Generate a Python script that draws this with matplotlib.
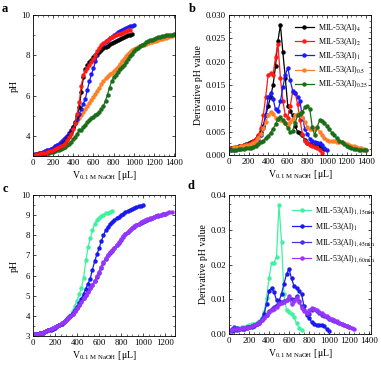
import matplotlib
matplotlib.use("Agg")
import matplotlib.pyplot as plt
from matplotlib.ticker import MultipleLocator, AutoMinorLocator

plt.rcParams['font.family'] = ['Liberation Serif', 'DejaVu Serif']
plt.rcParams['mathtext.fontset'] = 'stix'

# titration volumes (uL): pH read every 20 uL, derivative every 25 uL
VOL = list(range(0, 1401, 20))
DVOL = list(range(0, 1426, 25))

# ---- panel a: pH curves ----
ph_al4 = [3.05, 3.07, 3.09, 3.11, 3.13, 3.15, 3.17, 3.2, 3.23, 3.26, 3.3, 3.34, 3.39, 3.45, 3.52,
          3.6, 3.7, 3.83, 4.0, 4.2, 4.45, 4.7, 5.0, 5.45, 6.2, 6.9, 7.3, 7.5, 7.65, 7.78, 7.9, 8.0,
          8.1, 8.18, 8.27, 8.35, 8.42, 8.48, 8.54, 8.6, 8.65, 8.7, 8.75, 8.8, 8.85, 8.9, 8.95, 8.99,
          9.03, 9.06]
ph_al2 = [3.05, 3.07, 3.09, 3.11, 3.13, 3.15, 3.17, 3.2, 3.23, 3.26, 3.3, 3.34, 3.38, 3.43, 3.5,
          3.57, 3.66, 3.78, 3.92, 4.1, 4.35, 4.65, 5.1, 5.7, 6.5, 7.0, 7.2, 7.35, 7.5, 7.65, 7.8,
          8.0, 8.2, 8.35, 8.5, 8.6, 8.7, 8.78, 8.85, 8.9, 8.95, 9.0, 9.04, 9.08, 9.12, 9.16, 9.2,
          9.24, 9.28]
ph_al1 = [3.05, 3.08, 3.1, 3.13, 3.16, 3.2, 3.24, 3.28, 3.32, 3.37, 3.42, 3.48, 3.54, 3.61, 3.69,
          3.78, 3.88, 4.0, 4.13, 4.28, 4.45, 4.65, 4.85, 5.1, 5.35, 5.6, 5.85, 6.3, 6.7, 7.05, 7.35,
          7.7, 8.0, 8.25, 8.42, 8.57, 8.68, 8.76, 8.85, 8.93, 9.0, 9.08, 9.15, 9.21, 9.27, 9.32,
          9.36, 9.4, 9.44, 9.47, 9.5]
ph_al05 = [3.05, 3.08, 3.11, 3.14, 3.17, 3.2, 3.24, 3.28, 3.32, 3.37, 3.42, 3.48, 3.54, 3.61, 3.69,
           3.78, 3.88, 3.99, 4.12, 4.27, 4.42, 4.58, 4.74, 4.9, 5.05, 5.2, 5.33, 5.47, 5.62, 5.78,
           5.94, 6.1, 6.25, 6.4, 6.55, 6.7, 6.85, 6.98, 7.08, 7.13, 7.2, 7.3, 7.42, 7.56, 7.7, 7.84,
           7.97, 8.08, 8.17, 8.25, 8.31, 8.36, 8.41, 8.45, 8.49, 8.53, 8.57, 8.6, 8.64, 8.67, 8.7,
           8.73, 8.76, 8.79, 8.82, 8.85, 8.88, 8.91, 8.94, 8.97, 9.0]
ph_al025 = [3.03, 3.05, 3.07, 3.09, 3.11, 3.13, 3.16, 3.19, 3.22, 3.25, 3.28, 3.32, 3.36, 3.41,
            3.47, 3.54, 3.62, 3.71, 3.82, 3.95, 4.1, 4.27, 4.3, 4.42, 4.55, 4.68, 4.78, 4.87, 4.95,
            5.03, 5.1, 5.2, 5.32, 5.5, 5.75, 6.05, 6.4, 6.7, 6.9, 7.02, 7.15, 7.3, 7.4, 7.5, 7.65,
            7.8, 7.95, 8.08, 8.2, 8.3, 8.38, 8.45, 8.52, 8.58, 8.64, 8.69, 8.74, 8.78, 8.82, 8.86,
            8.89, 8.92, 8.95, 8.97, 8.99, 9.0, 9.02, 9.03, 9.04]

# ---- panel b: derivative curves ----
d_al4 = [0.0015, 0.0016, 0.0017, 0.0019, 0.002, 0.0021, 0.0023, 0.0025, 0.0027, 0.003, 0.0034,
         0.004, 0.005, 0.0063, 0.0085, 0.0105, 0.0125, 0.015, 0.019, 0.0245, 0.0279, 0.022,
         0.0165, 0.0105, 0.0095, 0.0085, 0.0062, 0.005, 0.0047, 0.0042, 0.0032, 0.0025, 0.0023,
         0.0022, 0.002, 0.0025, 0.002, 0.0015, 0.0012]
d_al2 = [0.0015, 0.0016, 0.0017, 0.0018, 0.002, 0.0021, 0.0022, 0.0024, 0.0026, 0.0029, 0.0034,
         0.0042, 0.0058, 0.0085, 0.0125, 0.0172, 0.0175, 0.0172, 0.021, 0.0238, 0.0165, 0.0115,
         0.0085, 0.008, 0.0105, 0.0135, 0.0133, 0.011, 0.0075, 0.0045, 0.003, 0.0025, 0.0022,
         0.002, 0.0018, 0.0015, 0.001, 0.0005]
d_al1 = [0.001, 0.0011, 0.0012, 0.0013, 0.0014, 0.0015, 0.0017, 0.0019, 0.0021, 0.0024, 0.0028,
         0.0033, 0.0042, 0.0058, 0.0085, 0.0125, 0.0132, 0.012, 0.0098, 0.0095, 0.0115, 0.0145,
         0.0172, 0.0187, 0.016, 0.0138, 0.0133, 0.0125, 0.0115, 0.008, 0.0055, 0.0045, 0.0035,
         0.003, 0.0027, 0.0026, 0.0026, 0.0022, 0.0015, 0.001]
d_al05 = [0.0018, 0.0017, 0.0018, 0.0019, 0.002, 0.0021, 0.0022, 0.0024, 0.0026, 0.003, 0.0036,
          0.0045, 0.0057, 0.007, 0.0085, 0.0093, 0.0088, 0.008, 0.0078, 0.0075, 0.0072, 0.0068,
          0.0065, 0.007, 0.0077, 0.0085, 0.0088, 0.009, 0.0082, 0.007, 0.006, 0.0055, 0.0055,
          0.0056, 0.0058, 0.005, 0.0043, 0.0037, 0.0033, 0.003, 0.0029, 0.0029, 0.0028, 0.0028,
          0.0027, 0.0026, 0.0024, 0.0022, 0.002, 0.0019, 0.0018, 0.0016, 0.0014, 0.0012, 0.001]
d_al025 = [0.001, 0.001, 0.0011, 0.0012, 0.0013, 0.0013, 0.0014, 0.0015, 0.0016, 0.0018, 0.002,
           0.0023, 0.0027, 0.0031, 0.0036, 0.0041, 0.0048, 0.0056, 0.0066, 0.0078, 0.0081,
           0.0076, 0.0068, 0.0057, 0.0049, 0.0052, 0.0068, 0.0085, 0.0088, 0.0093, 0.0102,
           0.0105, 0.0098, 0.006, 0.0042, 0.006, 0.0074, 0.0072, 0.0068, 0.0062, 0.0055, 0.0048,
           0.0042, 0.0036, 0.0031, 0.0027, 0.0023, 0.002, 0.0017, 0.0015, 0.0013, 0.0012, 0.0011,
           0.001, 0.0011, 0.001]

# ---- panel c: pH curves, crystallisation time series ----
ph_15min = [3.05, 3.08, 3.1, 3.13, 3.16, 3.2, 3.24, 3.28, 3.32, 3.37, 3.42, 3.48, 3.55, 3.62, 3.7,
            3.8, 3.92, 4.06, 4.24, 4.5, 4.75, 5.1, 5.38, 5.9, 6.75, 7.4, 7.85, 8.25, 8.55, 8.75,
            8.88, 8.97, 9.03, 9.09, 9.13, 9.18, 9.22]
ph_45min = [3.05, 3.08, 3.11, 3.14, 3.17, 3.21, 3.25, 3.3, 3.35, 3.4, 3.45, 3.51, 3.57, 3.63, 3.7,
            3.78, 3.87, 3.97, 4.1, 4.24, 4.4, 4.56, 4.73, 4.9, 5.06, 5.22, 5.38, 5.55, 5.73, 5.93,
            6.15, 6.38, 6.6, 6.82, 7.0, 7.13, 7.24, 7.36, 7.5, 7.64, 7.78, 7.92, 8.04, 8.15, 8.25,
            8.34, 8.42, 8.49, 8.56, 8.62, 8.67, 8.72, 8.77, 8.82, 8.86, 8.9, 8.94, 8.98, 9.01,
            9.04, 9.07]
ph_60min = [3.05, 3.08, 3.11, 3.14, 3.17, 3.21, 3.25, 3.3, 3.35, 3.4, 3.45, 3.51, 3.57, 3.63, 3.7,
            3.78, 3.87, 3.97, 4.09, 4.22, 4.37, 4.53, 4.7, 4.87, 5.03, 5.2, 5.37, 5.55, 5.75, 5.97,
            6.2, 6.45, 6.67, 6.87, 7.03, 7.15, 7.25, 7.37, 7.5, 7.65, 7.8, 7.95, 8.07, 8.18, 8.28,
            8.37, 8.45, 8.52, 8.58, 8.64, 8.69, 8.74, 8.79, 8.84, 8.88, 8.92, 8.96, 8.99, 9.02,
            9.05, 9.08, 9.11, 9.14, 9.17]

# ---- panel d: derivative curves, crystallisation time series ----
d_15min = [0.001, 0.0012, 0.0015, 0.0016, 0.0017, 0.0019, 0.002, 0.0022, 0.0025, 0.0028, 0.003,
           0.0033, 0.0036, 0.0045, 0.0062, 0.0103, 0.016, 0.0203, 0.0205, 0.0222, 0.0371, 0.0266,
           0.0115, 0.0068, 0.0064, 0.0058, 0.0048, 0.0031, 0.0018, 0.0012]
d_45min = [0.001, 0.0015, 0.002, 0.0017, 0.0015, 0.0016, 0.0017, 0.0019, 0.002, 0.0023, 0.0026,
           0.003, 0.0034, 0.004, 0.0048, 0.0056, 0.0065, 0.0072, 0.0078, 0.0083, 0.0088, 0.0092,
           0.0095, 0.0098, 0.0105, 0.01, 0.0098, 0.011, 0.0095, 0.008, 0.0068, 0.006, 0.0058,
           0.0068, 0.0072, 0.0065, 0.006, 0.0056, 0.0052, 0.0048, 0.0044, 0.004, 0.0037, 0.0034,
           0.0031, 0.0028, 0.0025, 0.0022, 0.002]
d_60min = [0.001, 0.0012, 0.0013, 0.0014, 0.0015, 0.0016, 0.0017, 0.0018, 0.002, 0.0022, 0.0025,
           0.0029, 0.0033, 0.0039, 0.0046, 0.0055, 0.0064, 0.007, 0.0072, 0.0078, 0.0085, 0.009,
           0.0092, 0.0098, 0.0108, 0.0085, 0.0095, 0.0105, 0.0092, 0.0075, 0.0065, 0.006, 0.0068,
           0.0074, 0.0073, 0.0069, 0.0064, 0.006, 0.0055, 0.0051, 0.0047, 0.0043, 0.004, 0.0036,
           0.0033, 0.003, 0.0027, 0.0024, 0.0021, 0.0018, 0.0015]

labels_ab = [r'MIL-53(Al)$_{4}$', r'MIL-53(Al)$_{2}$', r'MIL-53(Al)$_{1}$',
             r'MIL-53(Al)$_{0.5}$', r'MIL-53(Al)$_{0.25}$']
colors_ab = ['#000000', '#ff1a1a', '#1a1aff', '#ff7f27', '#1a6e1a']
labels_cd = [r'MIL-53(Al)$_{1,15\mathrm{min}}$', r'MIL-53(Al)$_{1}$',
             r'MIL-53(Al)$_{1,45\mathrm{min}}$', r'MIL-53(Al)$_{1,60\mathrm{min}}$']
colors_cd = ['#3ff2a2', '#1a1aee', '#4a30e0', '#9933ff']

XLABEL = r'V$_{\mathregular{0.1\ M\ NaOH}}$ [$\mathregular{\mu}$L]'
FS = 6.3
LFS = 7


def draw(ax, x, y, color, label=None):
    ax.plot(x[:len(y)], y, '-o', color=color, lw=0.9, ms=3.2, mew=0, label=label)


def style(ax, xmax, ymin, ymax, ymaj, xlabel_pad=1.5):
    ax.set_xlim(0, xmax)
    ax.set_ylim(ymin, ymax)
    ax.xaxis.set_major_locator(MultipleLocator(200))
    ax.xaxis.set_minor_locator(AutoMinorLocator(4))
    ax.yaxis.set_major_locator(MultipleLocator(ymaj))
    ax.yaxis.set_minor_locator(AutoMinorLocator(4))
    ax.tick_params(which='both', direction='in', top=True, right=True, labelsize=FS, pad=2)
    ax.tick_params(which='major', length=2.5, width=0.5)
    ax.tick_params(which='minor', length=1.3, width=0.4)
    for sp in ax.spines.values():
        sp.set_linewidth(0.6)
    ax.set_xlabel(XLABEL, fontsize=LFS, labelpad=xlabel_pad)


fig = plt.figure(figsize=(3.81, 3.65), dpi=100)
W, H = 381.0, 365.0


def add_axes(l, r, t, b):
    return fig.add_axes([l / W, 1 - b / H, (r - l) / W, (b - t) / H])


ax_a = add_axes(33, 175, 15, 156)
ax_b = add_axes(229, 371, 15, 155)
ax_c = add_axes(33, 175, 195, 336)
ax_d = add_axes(229, 371, 195, 334)

# a
draw(ax_a, VOL, ph_al05, colors_ab[3])
draw(ax_a, VOL[2:], ph_al025, colors_ab[4])
draw(ax_a, VOL, ph_al1, colors_ab[2])
draw(ax_a, VOL, ph_al4, colors_ab[0])
draw(ax_a, VOL, ph_al2, colors_ab[1])
style(ax_a, 1410, 3, 10, 2)
ax_a.yaxis.set_minor_locator(AutoMinorLocator(2))
ax_a.set_ylabel('pH', fontsize=LFS, labelpad=2)

# b
draw(ax_b, DVOL[1:], d_al4, colors_ab[0], labels_ab[0])
draw(ax_b, DVOL[1:], d_al2, colors_ab[1], labels_ab[1])
draw(ax_b, DVOL[1:], d_al1, colors_ab[2], labels_ab[2])
draw(ax_b, DVOL[2:], d_al05, colors_ab[3], labels_ab[3])
draw(ax_b, DVOL[1:], d_al025, colors_ab[4], labels_ab[4])
style(ax_b, 1450, 0, 0.03, 0.005)
ax_b.yaxis.set_major_formatter(plt.FormatStrFormatter('%.3f'))
ax_b.set_ylabel('Derivative pH value', fontsize=LFS, labelpad=2)
ax_b.legend(loc='upper left', bbox_to_anchor=(0.44, 0.97), frameon=False, fontsize=5.8,
            handlelength=2.4, handletextpad=0.5, labelspacing=0.3, borderaxespad=0)

# c
draw(ax_c, VOL, ph_15min, colors_cd[0])
draw(ax_c, VOL, ph_45min, colors_cd[2])
draw(ax_c, VOL, ph_al1, colors_cd[1])
draw(ax_c, VOL, ph_60min, colors_cd[3])
style(ax_c, 1290, 3, 10, 1)
ax_c.yaxis.set_minor_locator(AutoMinorLocator(2))
ax_c.set_ylabel('pH', fontsize=LFS, labelpad=2)

# d
draw(ax_d, DVOL, d_15min, colors_cd[0], labels_cd[0])
draw(ax_d, DVOL[1:], d_al1, colors_cd[1], labels_cd[1])
draw(ax_d, DVOL, d_45min, colors_cd[2], labels_cd[2])
draw(ax_d, DVOL, d_60min, colors_cd[3], labels_cd[3])
style(ax_d, 1420, 0, 0.04, 0.01)
ax_d.yaxis.set_major_formatter(plt.FormatStrFormatter('%.2f'))
ax_d.set_ylabel('Derivative pH value', fontsize=LFS, labelpad=2)
ax_d.legend(loc='upper left', bbox_to_anchor=(0.42, 0.95), frameon=False, fontsize=5.8,
            handlelength=2.4, handletextpad=0.5, labelspacing=0.55, borderaxespad=0)

# panel letters
for letter, x, y in [('a', 2, 12), ('b', 189, 12), ('c', 3, 192), ('d', 188, 189)]:
    fig.text(x / W, 1 - y / H, letter, fontsize=9, fontweight='bold')

fig.savefig('out.png', dpi=100)
